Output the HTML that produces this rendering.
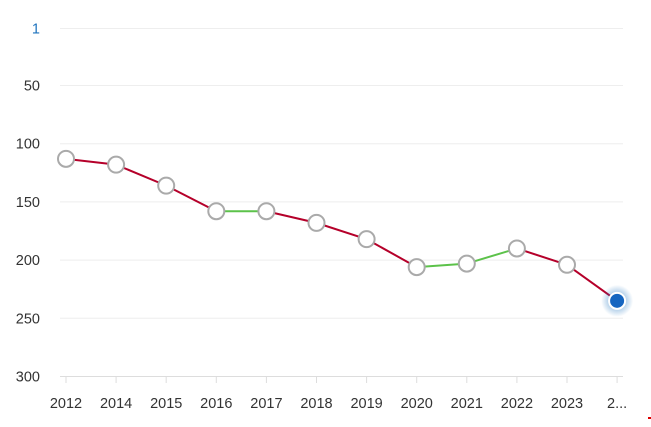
<!DOCTYPE html>
<html><head><meta charset="utf-8"><style>
body{margin:0;background:#fff;width:651px;height:422px;overflow:hidden}
text{font-family:"Liberation Sans",sans-serif;font-size:14.5px;fill:#333}
</style></head><body>
<svg id="chart" width="651" height="422" xmlns="http://www.w3.org/2000/svg"></svg>
<script>
const years=["2012","2014","2015","2016","2017","2018","2019","2020","2021","2022","2023","2..."];
const ranks=[113,118,136,158,158,168,182,206,203,190,204,235];
const yTicks=[1,50,100,150,200,250,300];
const NS="http://www.w3.org/2000/svg";
const svg=document.getElementById('chart');
const x0=66,dx=50.1;
function xs(i){return x0+i*dx;}
function ys(v){return 28.5+(v-1)*(376-28)/299;}
function mk(t,a,p){const e=document.createElementNS(NS,t);for(const k in a)e.setAttribute(k,a[k]);(p||svg).appendChild(e);return e;}
yTicks.forEach((v,i)=>{
  const g=mk('line',{x1:60,x2:623,y1:ys(v),y2:ys(v),stroke:i==yTicks.length-1?'#ddd':'#eee','stroke-width':1});
  
  
  const t=mk('text',{x:40,y:ys(v)+5,'text-anchor':'end'});
  t.textContent=v;
  if(v===1)t.style.fill='#1e73be';
  
  
});
years.forEach((y,i)=>{
  const tk=mk('line',{x1:xs(i),x2:xs(i),y1:376,y2:383,stroke:'#ddd'});
  
  
  const t=mk('text',{x:xs(i),y:408,'text-anchor':'middle'});
  t.textContent=y;
  
  
});
for(let i=0;i<ranks.length-1;i++){
  const c=ranks[i+1]>ranks[i]?'#b5002a':'#5cc24a';
  const l=mk('line',{x1:xs(i),y1:ys(ranks[i]),x2:xs(i+1),y2:ys(ranks[i+1]),stroke:c,'stroke-width':2});
  
  
}
const defs=mk('defs',{});
const rg=mk('radialGradient',{id:'glow'},defs);
mk('stop',{offset:'50%','stop-color':'#1e73be','stop-opacity':'0.35'},rg);
mk('stop',{offset:'100%','stop-color':'#1e73be','stop-opacity':'0'},rg);
ranks.forEach((v,i)=>{
  const last=i===ranks.length-1;
  if(last){const h=mk('circle',{cx:xs(i),cy:ys(v),r:16,fill:'url(#glow)'});
    
    }
  const c=mk('circle',{cx:xs(i),cy:ys(v),r:8,fill:last?'#1565c0':'#fff',stroke:last?'#fff':'#aaa','stroke-width':2});
  
  
});
const m=mk('line',{x1:648,x2:652,y1:418,y2:418,stroke:'#d00','stroke-width':2});


</script>
</body></html>
